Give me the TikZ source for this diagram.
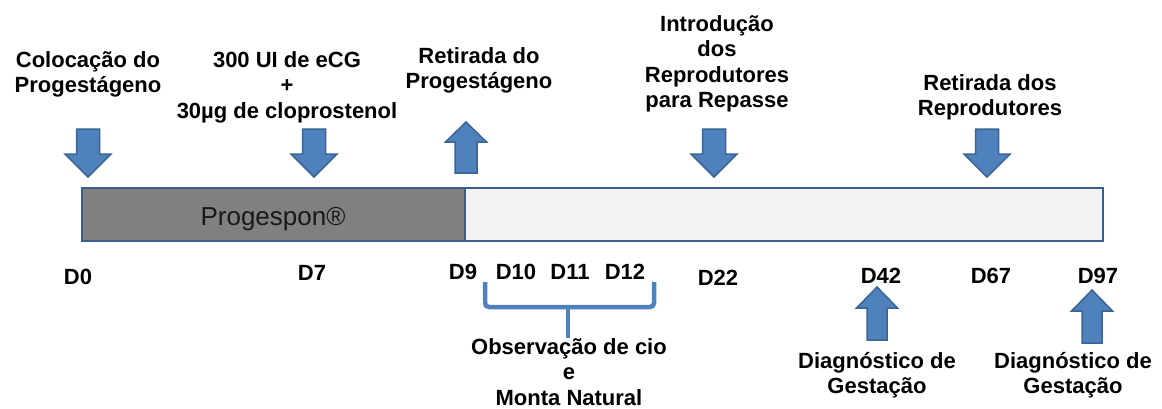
\documentclass[tikz,border=0pt]{standalone}
\usepackage{fontspec}
\setmainfont{Liberation Sans}
\definecolor{arrfill}{HTML}{4F81BD}
\definecolor{arrline}{HTML}{3A6494}
\definecolor{barline}{HTML}{3A5F8B}
\definecolor{darkfill}{HTML}{808080}
\definecolor{lightfill}{HTML}{F2F2F2}
\begin{document}
\begin{tikzpicture}[x=1pt,y=-1pt,
  lbl/.style={anchor=base,inner sep=0pt,font=\bfseries\fontsize{22}{25.5}\selectfont},
  arrowfill/.style={fill=arrfill,draw=arrline,line width=1.5pt,line join=miter},
  barbox/.style={draw=barline,line width=2.5pt},
  bracketline/.style={draw=arrfill,line width=4.5pt,rounded corners=4pt},
  downarr/.pic={\path[arrowfill] (-11.5,-48)--(11.5,-48)--(11.5,-23)--(23,-23)--(0,0)--(-23,-23)--(-11.5,-23)--cycle;},
  uparrA/.pic={\path[arrowfill] (-11,51)--(11,51)--(11,20)--(20.5,20)--(0,0)--(-20.5,20)--(-11,20)--cycle;},
  uparrB/.pic={\path[arrowfill] (-10,53)--(10,53)--(10,21)--(20.5,21)--(0,0)--(-20.5,21)--(-10,21)--cycle;}
]
\useasboundingbox (0,0) rectangle (1162,408);
\setlength{\tabcolsep}{0pt}
% bar
\path[barbox,fill=darkfill] (82,188) rectangle (465,241);
\path[barbox,fill=lightfill] (465,188) rectangle (1103,241);
\node[anchor=base,inner sep=0pt,font=\fontsize{26}{30}\selectfont,text=black!90] (prog) at (273,225) {Progespon®};
% top labels
\node[lbl] (coloc) at (88,67) {\begin{tabular}[t]{c}Colocação do\\Progestágeno\end{tabular}};
\node[lbl] (ecg) at (287,67) {\begin{tabular}[t]{c}300 UI de eCG\\+\\30µg de cloprostenol\end{tabular}};
\node[lbl] (ret1) at (479,63) {\begin{tabular}[t]{c}Retirada do\\Progestágeno\end{tabular}};
\node[lbl] (intro) at (717,31) {\begin{tabular}[t]{c}Introdução\\dos\\Reprodutores\\para Repasse\end{tabular}};
\node[lbl] (ret2) at (990,90) {\begin{tabular}[t]{c}Retirada dos\\Reprodutores\end{tabular}};
% arrows top
\pic at (88,177) {downarr};
\pic at (314,177) {downarr};
\pic at (466,122) {uparrA};
\pic at (714,177) {downarr};
\pic at (987,177) {downarr};
% day labels
\node[lbl] (d0) at (78,284) {D0};
\node[lbl] (d7) at (312,280) {D7};
\node[lbl] (d9) at (463,279) {D9};
\node[lbl] (d10) at (516,279) {D10};
\node[lbl] (d11) at (570,279) {D11};
\node[lbl] (d12) at (625,279) {D12};
\node[lbl] (d22) at (718,285) {D22};
\node[lbl] (d42) at (881,283) {D42};
\node[lbl] (d67) at (991,283) {D67};
\node[lbl] (d97) at (1098,283) {D97};
% bracket
\coordinate (bl) at (485,282);
\coordinate (br) at (654,282);
\coordinate (bm) at (568,307);
\coordinate (bs) at (568,338);
\draw[bracketline] (bl) |- (bm) -| (br);
\draw[bracketline] (bm) -- (bs);
\node[lbl] (obs) at (569,354) {\begin{tabular}[t]{c}Observação de cio\\e\\Monta Natural\end{tabular}};
% bottom arrows
\pic at (877,287) {uparrB};
\pic at (1092,290) {uparrB};
\node[lbl] (diag1) at (877,368) {\begin{tabular}[t]{c}Diagnóstico de\\Gestação\end{tabular}};
\node[lbl] (diag2) at (1073,368) {\begin{tabular}[t]{c}Diagnóstico de\\Gestação\end{tabular}};
\end{tikzpicture}
\end{document}
